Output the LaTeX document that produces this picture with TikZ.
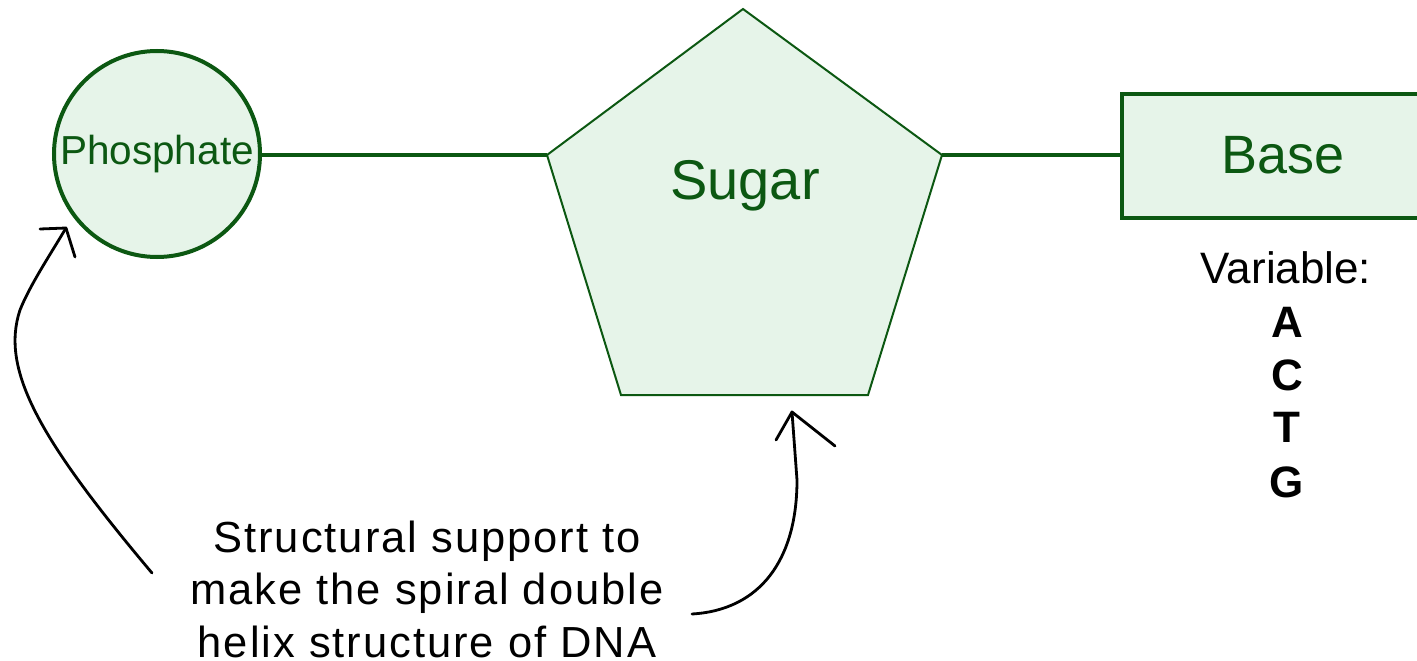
\documentclass[tikz,border=0pt]{standalone}
\usepackage{fontspec}
\setmainfont{Liberation Sans}
\definecolor{dkgreen}{RGB}{12,88,18}
\definecolor{ltgreen}{RGB}{230,244,233}
\begin{document}
\begin{tikzpicture}[x=1pt,y=-1pt,
  shapebox/.style={draw=dkgreen,fill=ltgreen,text=dkgreen},
  link/.style={draw=dkgreen,line width=4pt},
  note/.style={draw=black,line width=2.8pt,line cap=round,line join=round},
  lbl/.style={font=\fontsize{44}{53}\selectfont,align=center,inner sep=0pt}]
\useasboundingbox (0,0) rectangle (1417,661);
% phosphate
\node[shapebox,circle,line width=4pt,minimum size=206pt,inner sep=0pt,
  font=\fontsize{40.5}{44}\selectfont] (phos) at (157,154) {Phosphate};
% sugar pentagon
\coordinate (pT) at (743,9);
\coordinate (pL) at (547,155);
\coordinate (pR) at (942,155);
\coordinate (pBL) at (621,395);
\coordinate (pBR) at (868,395);
\path[shapebox,line width=2pt] (pT) -- (pR) -- (pBR) -- (pBL) -- (pL) -- cycle;
\node[text=dkgreen,font=\fontsize{56}{64}\selectfont] (sugar) at (745,186) {Sugar};
% base
\node[shapebox,rectangle,line width=4pt,minimum width=322pt,minimum height=124pt,
  anchor=west,font=\fontsize{54}{62}\selectfont] (base) at (1120,156) {\raisebox{3pt}{Base}};
% links
\draw[link] (phos.east |- 0,155) -- (pL);
\draw[link] (pR) -- (base.west |- 0,155);
% variable
\node[lbl] (var) at (1286,268) {Variable:};
\node[lbl,font=\fontsize{44}{53}\selectfont\bfseries] (nA) at (1287,322) {A};
\node[lbl,font=\fontsize{44}{53}\selectfont\bfseries] (nC) at (1287,375) {C};
\node[lbl,font=\fontsize{44}{53}\selectfont\bfseries] (nT) at (1287,427) {T};
\node[lbl,font=\fontsize{44}{53}\selectfont\bfseries] (nG) at (1287,482) {G};
% note
\node[lbl,font=\fontsize{43.5}{52.5}\selectfont\addfontfeature{LetterSpace=4.5}] (note) at (427,589)
  {Structural support to\\make the spiral double\\helix structure of DNA};
% arrows
\coordinate (a1s) at (152,573);
\coordinate (a1t) at (66,228);
\coordinate (a2s) at (692,614);
\coordinate (a2t) at (792,412);
\draw[note] (a1s) .. controls (40,440) and (0,370) .. (20,310) .. controls (30,285) and (50,255) .. (a1t);
\draw[note] (40,229) -- (a1t) -- (75,257);
\draw[note] (a2s) .. controls (760,610) and (797,560) .. (797,480) -- (a2t);
\draw[note] (776,440) -- (a2t) -- (835,446);
\end{tikzpicture}
\end{document}
